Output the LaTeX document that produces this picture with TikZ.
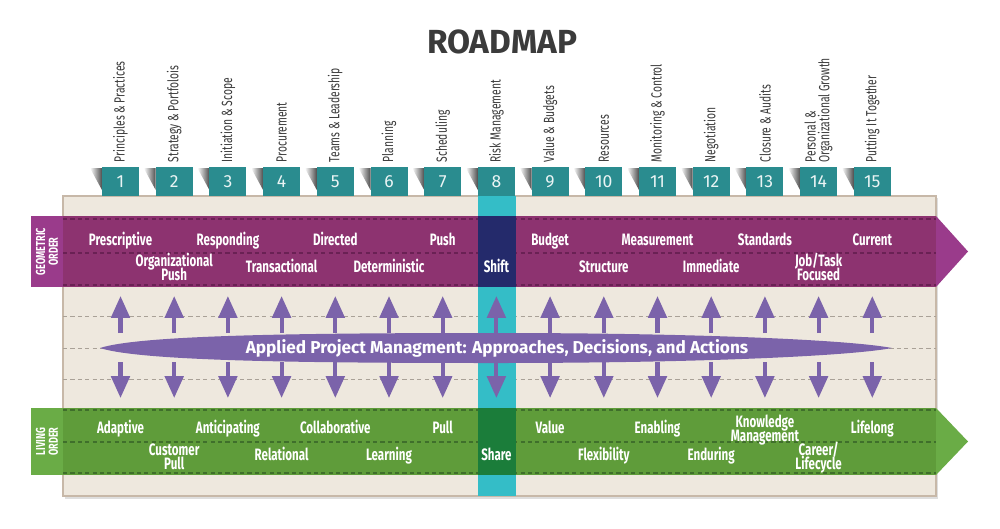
\documentclass[tikz,border=0pt]{standalone}
\usepackage{fontspec}
\setmainfont{Fira Sans}
\newfontfamily\narrowfont[FakeStretch=0.7]{Fira Sans}
\usetikzlibrary{arrows.meta,positioning}

\definecolor{titlegray}{HTML}{3B3B3B}
\definecolor{tabteal}{HTML}{2A8C8F}
\definecolor{colcyan}{HTML}{34BDC7}
\definecolor{boxbeige}{HTML}{EEE8DE}
\definecolor{boxedge}{HTML}{C7B8A8}
\definecolor{gmag}{HTML}{9A3B8B}
\definecolor{gpurple}{HTML}{8D3370}
\definecolor{gdash}{HTML}{6A2154}
\definecolor{gnavy}{HTML}{242A6B}
\definecolor{lgreen}{HTML}{6AAC46}
\definecolor{lmain}{HTML}{5F9C3A}
\definecolor{ldash}{HTML}{3F6F2B}
\definecolor{ldark}{HTML}{1B7D3A}
\definecolor{apmviolet}{HTML}{7B63AA}
\definecolor{midgray}{HTML}{A9A197}

\newcommand\tightlines{\lineskiplimit=-10pt\relax}

\begin{document}
\begin{tikzpicture}[x=0.02cm, y=-0.02cm,
    title/.style={inner sep=0pt, text=titlegray, font=\bfseries\fontsize{19}{20}\selectfont},
    tabbox/.style={fill=tabteal, text=white!90!tabteal, minimum width=0.74cm, minimum height=0.58cm,
      inner sep=0pt, font=\fontsize{10}{10}\selectfont},
    toplabel/.style={rotate=90, anchor=west, inner sep=0pt, text=titlegray, align=left,
      font=\narrowfont\fontsize{8.4}{7.8}\selectfont\tightlines},
    bandtext/.style={anchor=base, text=white, align=center, inner sep=0pt,
      font=\narrowfont\bfseries\fontsize{9.4}{7.9}\selectfont\tightlines},
    sidelabel/.style={rotate=90, text=white, align=center, inner sep=0pt,
      font=\narrowfont\bfseries\fontsize{7.4}{7.2}\selectfont},
    gline/.style={gdash, line width=0.6pt, dash pattern=on 2.4pt off 1.8pt},
    lline/.style={ldash, line width=0.6pt, dash pattern=on 2.4pt off 1.8pt},
    midline/.style={midgray, line width=0.5pt, dash pattern=on 2.4pt off 1.8pt},
    bigarrow/.style={apmviolet, line width=2.3pt, -{Triangle[width=10.4pt,length=12.4pt]}},
  ]
\useasboundingbox[fill=white] (0,0) rectangle (1000,528);

\node[title] (title) at (502,42) {ROADMAP};

% main box
\fill[black!25, opacity=0.5] (65,198) rectangle (938,499);
\draw[boxedge, fill=boxbeige, line width=0.6pt] (63,196) rectangle (936,496);
\foreach \yy in {316,348,379}
  \draw[midline] (63,\yy) -- (936,\yy);
\fill[colcyan] (478,196) rectangle (516,496);

% tabs and topic labels
\foreach \i/\topic in {1/Principles \& Practices, 2/Strategy \& Portfolois, 3/Initiation \& Scope,
    4/Procurement, 5/Teams \& Leadership, 6/Planning, 7/Scheduling, 8/Risk Management,
    9/Value \& Budgets, 10/Resources, 11/Monitoring \& Control, 12/Negotiation,
    13/Closure \& Audits, 14/{Personal \&\\Organizational Growth}, 15/Putting It Together}{
  \pgfmathsetmacro\cx{120.5+(\i-1)*53.7}
  \shade[left color=white, right color=black!70] (\cx-30.5,168) -- (\cx-18.5,168) -- (\cx-18.5,190) -- cycle;
  \node[tabbox] (t\i) at (\cx,181.5) {\i};
  \node[toplabel] (l\i) at ([yshift=0.08cm]t\i.north) {\topic};
}

% geometric order band
\fill[gmag] (31,216) rectangle (63,287);
\fill[gpurple] (63,216) rectangle (936,287);
\fill[gmag] (936,216) -- (968,251.5) -- (936,287) -- cycle;
\foreach \yy in {219,253,285}
  \draw[gline] (63,\yy) -- (936,\yy);
\fill[gnavy] (478,216) rectangle (516,287);
\node[sidelabel] (geo) at (47,251.5) {GEOMETRIC\\ORDER};

% living order band
\fill[lgreen] (31,408) rectangle (63,475);
\fill[lmain] (63,408) rectangle (936,475);
\fill[lgreen] (936,408) -- (968,441.5) -- (936,475) -- cycle;
\foreach \yy in {410,442,473}
  \draw[lline] (63,\yy) -- (936,\yy);
\fill[ldark] (478,408) rectangle (516,475);
\node[sidelabel] (liv) at (47,441.5) {LIVING\\ORDER};

% band words (last baseline)
\foreach \i/\ry/\word in {1/245/Prescriptive, 2/280/Organizational\\Push, 3/245/Responding,
    4/272/Transactional, 5/245/Directed, 6/272/Deterministic, 7/245/Push, 8/272/Shift,
    9/245/Budget, 10/272/Structure, 11/245/Measurement, 12/272/Immediate, 13/245/Standards,
    14/280/{Job/Task\\Focused}, 15/245/Current}{
  \pgfmathsetmacro\cx{120.5+(\i-1)*53.7}
  \node[bandtext] (g\i) at (\cx,\ry) {\word};
}
\foreach \i/\ry/\word in {1/433/Adaptive, 2/469/Customer\\Pull, 3/433/Anticipating,
    4/460/Relational, 5/433/Collaborative, 6/460/Learning, 7/433/Pull, 8/460/Share,
    9/433/Value, 10/460/Flexibility, 11/433/Enabling, 12/460/Enduring,
    13/441/Knowledge\\Management, 14/469/{Career/\\Lifecycle}, 15/433/Lifelong}{
  \pgfmathsetmacro\cx{120.5+(\i-1)*53.7}
  \node[bandtext] (v\i) at (\cx,\ry) {\word};
}

% arrows up and down
\foreach \i in {1,...,15}{
  \pgfmathsetmacro\cx{120.5+(\i-1)*53.7}
  \coordinate (ua\i) at (\cx,333);
  \coordinate (ub\i) at (\cx,296);
  \coordinate (da\i) at (\cx,362);
  \coordinate (db\i) at (\cx,398);
  \draw[bigarrow] (ua\i) -- (ub\i);
  \draw[bigarrow] (da\i) -- (db\i);
}

% applied project management lens
\fill[apmviolet] (100,348) .. controls (140,335) and (300,333) .. (496,333)
  .. controls (700,333) and (850,340) .. (892,348)
  .. controls (850,356) and (700,363) .. (496,363)
  .. controls (300,363) and (140,361) .. (100,348) -- cycle;
\node[inner sep=0pt, text=white, font=\bfseries\fontsize{9.8}{10}\selectfont] (apm) at (497,348)
  {Applied Project Managment: Approaches, Decisions, and Actions};
\end{tikzpicture}
\end{document}
